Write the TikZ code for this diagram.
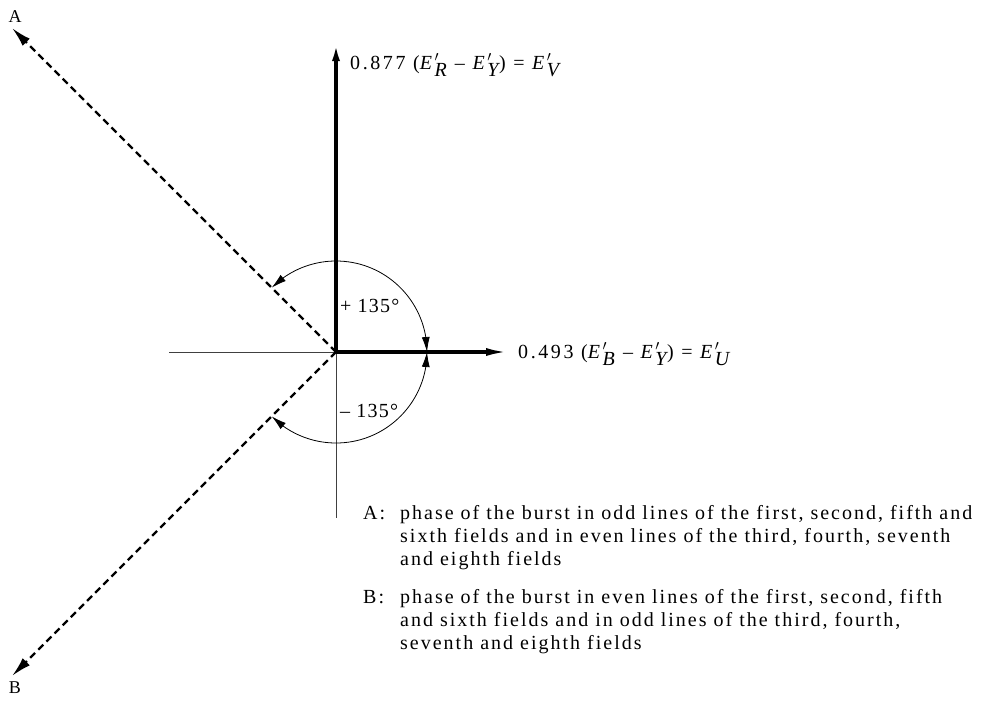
\documentclass[tikz,border=0pt]{standalone}
\usepackage{fontspec}
\setmainfont{Liberation Serif}
\newfontfamily\spreadfont[LetterSpace=10]{Liberation Serif}
\newfontfamily\labfont[LetterSpace=13]{Liberation Serif}
\newfontfamily\arcfont[LetterSpace=6]{Liberation Serif}
\usetikzlibrary{arrows.meta,bending}
\tikzset{
  thickaxis/.style={line width=3.1pt},
  thinaxis/.style={line width=0.8pt, black!75},
  dashline/.style={line width=2.2pt, dash pattern=on 7pt off 4.5pt},
  arcline/.style={line width=0.8pt},
  lbl/.style={font=\fontsize{20}{22}\selectfont\labfont, inner sep=0pt, anchor=base west},
  arclbl/.style={font=\fontsize{20}{22}\selectfont\arcfont, inner sep=0pt, anchor=base west},
  legend/.style={font=\fontsize{20}{23.5}\selectfont\spreadfont, inner sep=0pt, anchor=base west},
}
\newcommand{\Ep}[1]{\textit{E}$^{\prime}_{\textit{#1}}$}
\begin{document}
\begin{tikzpicture}[x=1pt,y=-1pt]
\useasboundingbox (0,0) rectangle (982,702);
\coordinate (O) at (336,352);
\coordinate (Vtip) at (336,44);
\coordinate (Utip) at (508,352);
\coordinate (Lend) at (169,352);
\coordinate (Dend) at (336,518);
\coordinate (Atip) at (12,28);
\coordinate (Btip) at (12,676);
% thin axes
\draw[thinaxis] (Lend) -- (O);
\draw[thinaxis] (O) -- (Dend);
% thick axes
\draw[thickaxis,-{Latex[length=17pt,width=8pt]}] (O) -- (Vtip);
\draw[thickaxis,-{Latex[length=22pt,width=8pt]}] (O) -- (Utip);
% dashed phase lines
\draw[dashline,-{Latex[length=20pt,width=10pt]}] (O) -- (Atip);
\draw[dashline,-{Latex[length=20pt,width=10pt]}] (O) -- (Btip);
% arcs
\draw[arcline,{Latex[length=15pt,width=8pt,flex]}-{Latex[length=15pt,width=8pt,flex]}] ([shift={(0:91)}]O) arc[start angle=0,end angle=135,radius=91];
\draw[arcline,{Latex[length=15pt,width=8pt,flex]}-{Latex[length=15pt,width=8pt,flex]}] ([shift={(0:91)}]O) arc[start angle=0,end angle=-135,radius=91];
% labels
\node[font=\fontsize{18}{20}\selectfont, inner sep=0pt] (Alab) at (15,17) {A};
\node[font=\fontsize{18}{20}\selectfont, inner sep=0pt] (Blab) at (15,688) {B};
\node[lbl] (Vlab) at (350,69) {0.877 (\Ep{R} – \Ep{Y}) = \Ep{V}};
\node[lbl] (Ulab) at (518,358) {0.493 (\Ep{B} – \Ep{Y}) = \Ep{U}};
\node[arclbl] (plus) at (340,312) {+ 135°};
\node[arclbl] (minus) at (340,417) {– 135°};
% legend
\node[legend] (Akey) at (363,519) {A:};
\node[legend] (Aline1) at (400,519) {phase of the burst in odd lines of the first, second, fifth and};
\node[legend] (Aline2) at (400,542) {sixth fields and in even lines of the third, fourth, seventh};
\node[legend] (Aline3) at (400,565) {and eighth fields};
\node[legend] (Bkey) at (363,603) {B:};
\node[legend] (Bline1) at (400,603) {phase of the burst in even lines of the first, second, fifth};
\node[legend] (Bline2) at (400,626) {and sixth fields and in odd lines of the third, fourth,};
\node[legend] (Bline3) at (400,649) {seventh and eighth fields};
\end{tikzpicture}
\end{document}
